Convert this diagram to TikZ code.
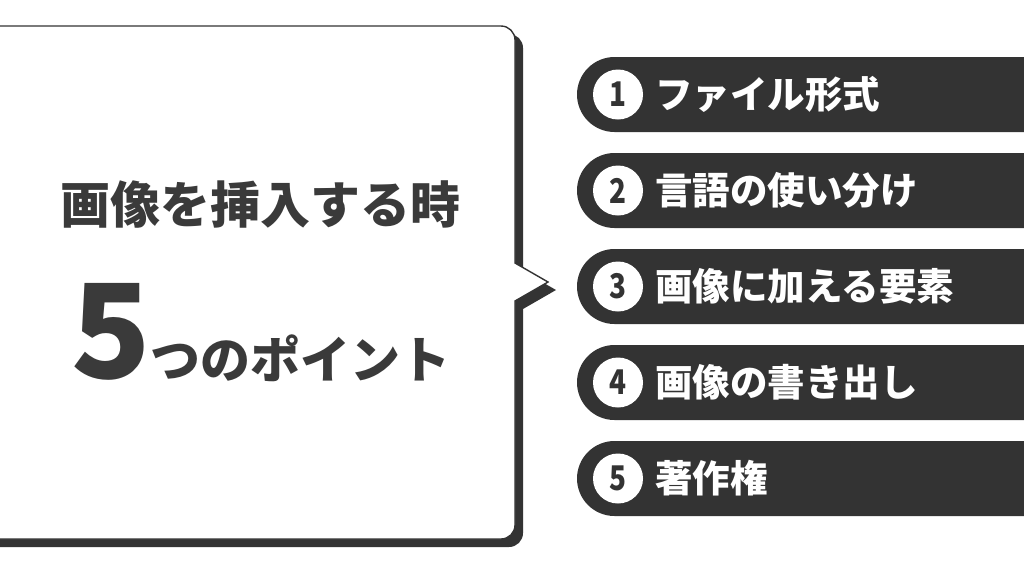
\documentclass[tikz,border=0pt]{standalone}
\usepackage{fontspec}
\newfontfamily\jp{Noto Sans CJK JP}
\newfontfamily\jpnum{Noto Sans CJK JP}[FakeStretch=0.82]
\definecolor{ink}{HTML}{333333}
\definecolor{txt}{HTML}{3A3A3A}
\tikzset{
  pill/.style={fill=ink, rounded corners=37.5pt},
  numcirc/.style={circle, fill=white, minimum size=50pt, inner sep=0pt, text=ink,
    font=\jpnum\bfseries\fontsize{34}{34}\selectfont},
  pilltext/.style={anchor=west, inner sep=0pt, text=white,
    font=\jp\bfseries\fontsize{37.5}{37.5}\selectfont},
  bigtext/.style={inner sep=0pt, text=txt}
}
\begin{document}
\begin{tikzpicture}[x=1pt,y=-1pt]
\useasboundingbox (0,0) rectangle (1024,574);
\fill[white] (0,0) rectangle (1024,574);
% bubble shadow
\fill[ink, shift={(8,8)}] (-30,26) -- (501,26) arc[start angle=270,end angle=360,radius=14]
  -- (515,263) -- (548,282) -- (515,301) -- (515,525)
  arc[start angle=0,end angle=90,radius=14] -- (-30,539) -- cycle;
% bubble
\filldraw[fill=white, draw=ink, line width=1.4pt] (-30,26) -- (501,26) arc[start angle=270,end angle=360,radius=14]
  -- (515,263) -- (548,282) -- (515,301) -- (515,525)
  arc[start angle=0,end angle=90,radius=14] -- (-30,539) -- cycle;
% bubble texts
\node[bigtext, font=\jp\bfseries\fontsize{50}{50}\selectfont] (title) at (260,204) {画像を挿入する時};
\node[bigtext, anchor=base, font=\jp\bfseries] (points) at (261,378)
  {{\fontsize{131}{131}\selectfont 5}{\fontsize{50}{50}\selectfont つのポイント}};
% pills
\foreach \i/\c/\t in {1/94.5/ファイル形式, 2/190.5/言語の使い分け, 3/286.5/画像に加える要素, 4/382.5/画像の書き出し, 5/478.5/著作権}{
  \fill[pill] (577,\c-37.5) rectangle (1070,\c+37.5);
  \node[numcirc] (n\i) at (618,\c) {\i};
  \node[pilltext] (p\i) at (655,\c) {\t};
}
\end{tikzpicture}
\end{document}
